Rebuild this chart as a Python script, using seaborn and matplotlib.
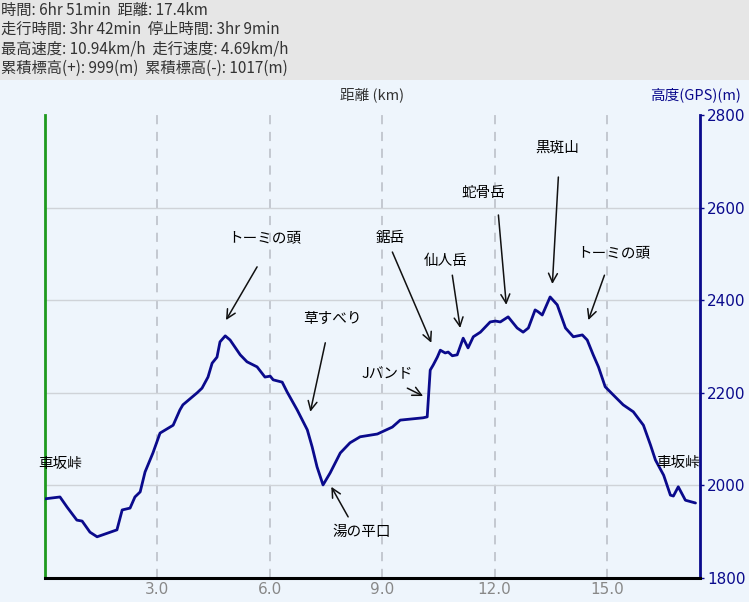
import numpy as np
import pandas as pd
import matplotlib
matplotlib.use("Agg")
import matplotlib.pyplot as plt
import matplotlib.patches as patches
import seaborn as sns

# elevation profile
dist_km = [0.00, 0.40, 0.59, 0.85, 0.99, 1.20, 1.39, 1.92, 2.06, 2.27, 2.40, 2.54, 2.67, 2.88,
           3.07, 3.42, 3.60, 3.68, 4.06, 4.19, 4.35, 4.46, 4.59, 4.67, 4.81, 4.94, 5.21, 5.39,
           5.66, 5.87, 6.01, 6.09, 6.33, 6.46, 6.73, 7.00, 7.13, 7.26, 7.42, 7.61, 7.88, 8.14,
           8.41, 8.87, 9.27, 9.48, 10.09, 10.20, 10.28, 10.36, 10.47, 10.55, 10.68, 10.76,
           10.87, 11.00, 11.16, 11.29, 11.43, 11.62, 11.88, 12.02, 12.15, 12.36, 12.60, 12.76,
           12.90, 13.08, 13.16, 13.27, 13.48, 13.67, 13.89, 14.10, 14.34, 14.47, 14.63, 14.77,
           14.95, 15.17, 15.43, 15.70, 15.97, 16.16, 16.29, 16.51, 16.69, 16.77, 16.90, 17.09,
           17.36]
elev_m = [1971, 1975, 1953, 1925, 1923, 1899, 1889, 1904, 1947, 1951, 1975, 1986, 2029, 2070,
          2113, 2130, 2163, 2174, 2200, 2210, 2234, 2264, 2277, 2310, 2323, 2314, 2282, 2267,
          2256, 2234, 2236, 2228, 2223, 2202, 2163, 2120, 2083, 2040, 2001, 2027, 2070, 2092,
          2105, 2111, 2126, 2141, 2146, 2148, 2249, 2260, 2277, 2292, 2286, 2288,
          2280, 2282, 2318, 2297, 2321, 2331, 2353, 2355, 2353, 2364, 2340, 2331,
          2340, 2379, 2375, 2368, 2407, 2390, 2340, 2321, 2325, 2314, 2282, 2256,
          2213, 2195, 2174, 2159, 2130, 2087, 2055, 2022, 1979, 1977, 1997, 1968,
          1962]

# annotations: label, text pos, arrow tail, arrow head (km, m)
ann_labels = ["トーミの頭", "草すべり", "鋸岳", "仙人岳", "Jバンド", "蛇骨岳", "黒斑山", "トーミの頭", "湯の平口"]
ann_text = [(5.87, 2534), (7.66, 2359), (9.21, 2534), (10.68, 2485), (9.13, 2241),
            (11.70, 2632), (13.67, 2731), (15.19, 2502), (8.46, 1899)]
ann_tail = [(5.66, 2472), (7.48, 2308), (9.27, 2504), (10.87, 2454), (9.67, 2210),
            (12.10, 2584), (13.70, 2666), (14.93, 2454), (8.09, 1932)]
ann_head = [(4.83, 2357), (7.08, 2159), (10.31, 2308), (11.08, 2340), (10.09, 2193),
            (12.31, 2390), (13.54, 2435), (14.50, 2357), (7.64, 1997)]

end_label = "車坂峠"
end_pos = [(0.40, 2046), (16.90, 2048)]

header_lines = ["時間: 6hr 51min  距離: 17.4km",
                "走行時間: 3hr 42min  停止時間: 3hr 9min",
                "最高速度: 10.94km/h  走行速度: 4.69km/h",
                "累積標高(+): 999(m)  累積標高(-): 1017(m)"]

x_ticks = [3.0, 6.0, 9.0, 12.0, 15.0]
y_ticks = [1800, 2000, 2200, 2400, 2600, 2800]

sns.set_style("white")
plt.rcParams['font.family'] = ['Noto Sans CJK JP', 'DejaVu Sans']
narrow = ['Liberation Sans Narrow', 'DejaVu Sans']

bg = '#eef5fc'
navy = '#0a0a8c'

fig = plt.figure(figsize=(7.49, 6.02), dpi=100, facecolor=bg)
# header band
fig.patches.append(patches.Rectangle((0, 1 - 80 / 602), 1, 80 / 602, transform=fig.transFigure,
                                     facecolor='#e6e6e6', edgecolor='none', zorder=0))
for i, line in enumerate(header_lines):
    fig.text(0.001, 1 - (10 + i * 19.3) / 602, line, fontsize=11, va='center', ha='left',
             color='#333333')

ax = fig.add_axes([45 / 749, 24 / 602, 655 / 749, 463 / 602])
ax.set_facecolor(bg)

df = pd.DataFrame({"dist": dist_km, "elev": elev_m})
sns.lineplot(data=df, x="dist", y="elev", ax=ax, color=navy, linewidth=2.0, zorder=3)

ax.set_xlim(0, 17.48)
ax.set_ylim(1800, 2800)

for xv in x_ticks:
    ax.axvline(xv, color='#b8bcc4', linestyle=(0, (6, 5)), linewidth=1.1, zorder=1)
for yv in y_ticks[1:-1]:
    ax.axhline(yv, color='#cfd3d8', linewidth=1.0, zorder=1)

ax.set_xticks(x_ticks)
ax.set_xticklabels([f"{v:.1f}" for v in x_ticks], color='#888888', fontsize=11, family=narrow)
ax.tick_params(axis='x', length=0, pad=3)
ax.yaxis.tick_right()
ax.set_yticks(y_ticks)
ax.set_yticklabels([str(v) for v in y_ticks], color=navy, fontsize=11, family=narrow)
ax.tick_params(axis='y', length=3, width=1, color=navy, pad=2, right=True, left=False)
ax.set_xlabel("")
ax.set_ylabel("")

ax.spines['top'].set_visible(False)
ax.spines['left'].set_color('#1e9a1e')
ax.spines['left'].set_linewidth(2)
ax.spines['bottom'].set_color('black')
ax.spines['bottom'].set_linewidth(2.2)
ax.spines['right'].set_color(navy)
ax.spines['right'].set_linewidth(2)

fig.text(372 / 749, 1 - 95 / 602, "距離 (km)", fontsize=10.5, ha='center', va='center', color='#333333')
fig.text(741 / 749, 1 - 95 / 602, "高度(GPS)(m)", fontsize=10.5, ha='right', va='center', color=navy)

for lab, tp, tl, hd in zip(ann_labels, ann_text, ann_tail, ann_head):
    ax.text(tp[0], tp[1], lab, fontsize=10.5, ha='center', va='center', color='black', zorder=5)
    ax.annotate("", xy=hd, xytext=tl,
                arrowprops=dict(arrowstyle='->', color='#111111', lw=1.1,
                                mutation_scale=16, shrinkA=0, shrinkB=0), zorder=5)

# left label sits over the axis line, right one is cut at the right edge
ax.text(end_pos[0][0], end_pos[0][1], end_label, fontsize=10.5, ha='center', va='center',
        color='black', zorder=5, clip_on=False)
ax.text(end_pos[1][0], end_pos[1][1], end_label, fontsize=10.5, ha='center', va='center',
        color='black', zorder=5, clip_on=True)

fig.savefig("out.png", dpi=100, facecolor=bg)
